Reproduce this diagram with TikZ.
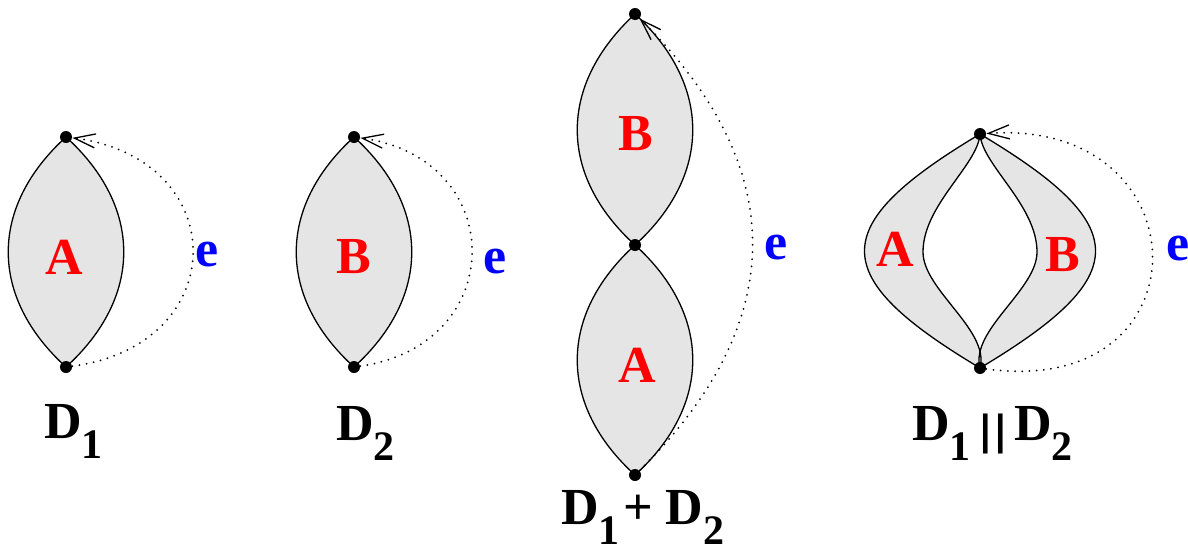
\documentclass[tikz,border=0pt]{standalone}
\usepackage{fontspec}
\setmainfont{Liberation Serif}
\newfontfamily\lblfont{Liberation Serif Bold}
\usetikzlibrary{arrows.meta}
\newcommand{\dsub}[1]{\raisebox{-10pt}{\fontsize{21}{21}\selectfont #1}}
\begin{document}
\begin{tikzpicture}[x=0.5pt,y=-0.5pt,
  lens/.style={draw=black, line width=0.65pt, fill=black!10},
  gfill/.style={fill=black!10},
  edge/.style={draw=black, line width=0.65pt},
  dot/.style={circle, fill=black, inner sep=0pt, minimum size=6pt},
  dotarc/.style={line width=1pt, dash pattern=on 0pt off 3.6pt, line cap=round,
    -{Straight Barb[length=10.5pt,width=7pt,line width=0.65pt]}},
  lbl/.style={font=\lblfont\fontsize{26}{30}\selectfont, inner sep=0pt},
  reg/.style={lbl, text=red},
  ecol/.style={lbl, text=blue}]
\useasboundingbox (0,0) rectangle (1188,552);
% positions
\coordinate (t1) at (66,137);  \coordinate (b1) at (66,367);
\coordinate (t2) at (354,137); \coordinate (b2) at (354,367);
\coordinate (t3) at (635,14);  \coordinate (m3) at (635,245); \coordinate (b3) at (635,475);
\coordinate (t4) at (980,134); \coordinate (b4) at (980,368);
% lens 1
\draw[lens] (t1) .. controls (143,207) and (143,297) .. (b1)
  .. controls (-11,297) and (-11,207) .. (t1) -- cycle;
% lens 2
\draw[lens] (t2) .. controls (431,207) and (431,297) .. (b2)
  .. controls (277,297) and (277,207) .. (t2) -- cycle;
% lens 3
\draw[lens] (t3) .. controls (712,85) and (712,175) .. (m3)
  .. controls (558,175) and (558,85) .. (t3) -- cycle;
\draw[lens] (m3) .. controls (712,315) and (712,405) .. (b3)
  .. controls (558,405) and (558,315) .. (m3) -- cycle;
% lens 4
\fill[gfill] (t4) .. controls (826,226) and (826,276) .. (b4)
  .. controls (990,330) and (923,290) .. (923,252)
  .. controls (923,205) and (978,165) .. (t4) -- cycle;
\fill[gfill] (t4) .. controls (1134,226) and (1134,276) .. (b4)
  .. controls (970,330) and (1037,290) .. (1037,252)
  .. controls (1037,205) and (982,165) .. (t4) -- cycle;
\draw[edge] (t4) .. controls (826,226) and (826,276) .. (b4);
\draw[edge] (t4) .. controls (1134,226) and (1134,276) .. (b4);
\draw[edge] (t4) .. controls (978,165) and (923,205) .. (923,252)
  .. controls (923,290) and (990,330) .. (b4);
\draw[edge] (t4) .. controls (982,165) and (1037,205) .. (1037,252)
  .. controls (1037,290) and (970,330) .. (b4);
% dots
\node[dot] (T1) at (t1) {}; \node[dot] (B1) at (b1) {};
\node[dot] (T2) at (t2) {}; \node[dot] (B2) at (b2) {};
\node[dot] (T3) at (t3) {}; \node[dot] (M3) at (m3) {}; \node[dot] (B3) at (b3) {};
\node[dot] (T4) at (t4) {}; \node[dot] (B4) at (b4) {};
% dotted edges e
\draw[dotarc] (B1) .. controls (233,345) and (233,159) .. (T1);
\draw[dotarc] (B2) .. controls (509,345) and (509,159) .. (T2);
\draw[dotarc] (B3) .. controls (790,322) and (790,167) .. (T3);
\draw[dotarc] (B4) .. controls (1210,400) and (1205,118) .. (T4);
% labels
\node[reg] (A1) at (64,257) {A};
\node[ecol] (e1) at (207,255) {e};
\node[reg] (B2l) at (354,257) {B};
\node[ecol] (e2) at (495,262) {e};
\node[reg] (B3l) at (636,134) {B};
\node[reg] (A3l) at (637,365) {A};
\node[ecol] (e3) at (776,248) {e};
\node[reg] (A4l) at (895,249) {A};
\node[reg] (B4l) at (1063,255) {B};
\node[ecol] (e4) at (1178,249) {e};
\node[lbl, anchor=base west] (L1) at (44,438) {D\dsub{1}};
\node[lbl, anchor=base west] (L2) at (336,440) {D\dsub{2}};
\node[lbl, anchor=base west] (L3) at (561,524) {D\dsub{1}\hspace{2pt}+\hspace{6pt}D\dsub{2}};
\node[lbl, anchor=base west] (L4) at (912,440) {D\dsub{1}\hspace{4pt}\raisebox{-2pt}{\fontsize{22}{22}\selectfont\scalebox{1.5}[1]{||}}\hspace{3pt}D\dsub{2}};
\end{tikzpicture}
\end{document}
